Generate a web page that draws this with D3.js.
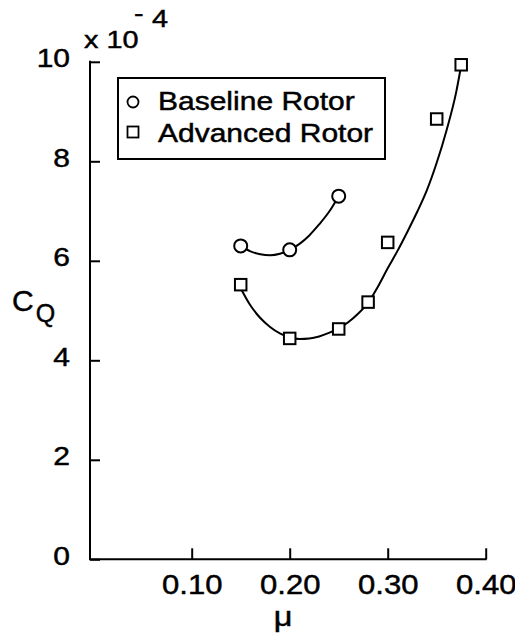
<!DOCTYPE html>
<html><head><meta charset="utf-8">
<script src="https://cdn.jsdelivr.net/npm/d3@7"></script>
<style>
html,body{margin:0;padding:0;background:#fff;}
svg{display:block;font-family:"Liberation Sans",Arial,Helvetica,sans-serif;}
svg text{stroke:#000;stroke-width:0.45px;}
</style></head>
<body>
<svg id="chart" width="515" height="634"></svg>
<script>
// ---- data ----
const xTicks = [0.10, 0.20, 0.30, 0.40];
const xTickLabels = ["0.10", "0.20", "0.30", "0.40"];
const yTicks = [0, 2, 4, 6, 8, 10];
const yTickLabels = ["0", "2", "4", "6", "8", "10"];

const baselineMu = [0.15, 0.20, 0.25];
const baselineCQ = [6.30, 6.22, 7.30];
const advancedMu = [0.15, 0.20, 0.25, 0.28, 0.30, 0.35, 0.375];
const advancedCQ = [5.52, 4.44, 4.63, 5.17, 6.37, 8.85, 9.94];

// fitted curves
const baselineFitMu = [0.15, 0.16, 0.17, 0.18, 0.19, 0.20, 0.21, 0.22, 0.23, 0.24, 0.25];
const baselineFitCQ = [6.30, 6.19, 6.13, 6.11, 6.14, 6.22, 6.34, 6.51, 6.73, 6.98, 7.30];
const advancedFitMu = [0.15, 0.16, 0.17, 0.18, 0.19, 0.20, 0.21, 0.22, 0.23, 0.24, 0.25, 0.26, 0.27, 0.28, 0.29, 0.30, 0.31, 0.32, 0.33, 0.34, 0.35, 0.36, 0.37, 0.375];
const advancedFitCQ = [5.45, 5.10, 4.85, 4.67, 4.54, 4.46, 4.43, 4.44, 4.48, 4.55, 4.64, 4.77, 4.94, 5.16, 5.48, 5.85, 6.20, 6.58, 6.98, 7.42, 7.97, 8.62, 9.40, 9.93];

const seriesNames = ["Baseline Rotor", "Advanced Rotor"];

// ---- layout ----
const svg = d3.select("#chart");
const ink = "#000";
const SX = 1.2; // glyphs in the reference are horizontally wide
const axisX0 = 90;
const x = d3.scaleLinear().domain([0.10, 0.40]).range([191.7, 485.7]);
const y = d3.scaleLinear().domain([0, 10]).range([559.3, 61.8]);

function label(px, py, txt, size, anchor) {
  return svg.append("text")
    .attr("transform", `translate(${px},${py}) scale(${SX},1)`)
    .attr("font-size", size).attr("fill", ink)
    .attr("text-anchor", anchor || "start").text(txt);
}

// axes lines
svg.append("line").attr("x1", axisX0 - 1).attr("x2", x(0.40) + 1).attr("y1", y(0)).attr("y2", y(0))
  .attr("stroke", ink).attr("stroke-width", 2);
svg.append("line").attr("x1", axisX0).attr("x2", axisX0).attr("y1", y(0)).attr("y2", y(10) - 1)
  .attr("stroke", ink).attr("stroke-width", 2);

// x axis
const xAxis = d3.axisBottom(x).tickValues(xTicks).tickFormat((d, i) => xTickLabels[i])
  .tickSizeInner(-11).tickSizeOuter(0).tickPadding(15.5);
const gx = svg.append("g").attr("transform", `translate(0,${y(0)})`).call(xAxis);
gx.select(".domain").remove();
gx.selectAll(".tick line").attr("stroke", ink).attr("stroke-width", 2);
gx.selectAll(".tick text").attr("font-size", 27).attr("fill", ink)
  .attr("font-family", "Liberation Sans, Arial, sans-serif")
  .attr("transform", `scale(${1.15},1)`);

// y axis
const yAxis = d3.axisLeft(y).tickValues(yTicks).tickFormat((d, i) => yTickLabels[i])
  .tickSizeInner(-10).tickSizeOuter(0).tickPadding(20);
const gy = svg.append("g").attr("transform", `translate(${axisX0},0)`).call(yAxis);
gy.select(".domain").remove();
gy.selectAll(".tick line").attr("stroke", ink).attr("stroke-width", 2);
gy.selectAll(".tick text").attr("font-size", 25).attr("fill", ink).attr("dy", "0.2em")
  .attr("font-family", "Liberation Sans, Arial, sans-serif")
  .attr("x", -20 / SX).attr("transform", `scale(${SX},1)`);

// exponent label
label(84, 48, "x 10", 24);
label(134, 21, "-", 24);
label(152, 27, "4", 24);

// axis titles
const yt = svg.append("text").attr("transform", "translate(12,311)")
  .attr("fill", ink).attr("font-size", 30);
yt.append("tspan").text("C");
yt.append("tspan").attr("font-size", 25).attr("dy", 11).attr("dx", 2).text("Q");
label(283, 626, "μ", 27, "middle");

// fitted curves
const line = d3.line().x(d => x(d[0])).y(d => y(d[1])).curve(d3.curveMonotoneX);
const bFit = baselineFitMu.map((m, i) => [m, baselineFitCQ[i]]);
const aFit = advancedFitMu.map((m, i) => [m, advancedFitCQ[i]]);
svg.append("path").attr("d", line(bFit)).attr("fill", "none").attr("stroke", ink).attr("stroke-width", 2);
svg.append("path").attr("d", line(aFit)).attr("fill", "none").attr("stroke", ink).attr("stroke-width", 2);

// markers
const bPts = baselineMu.map((m, i) => [m, baselineCQ[i]]);
const aPts = advancedMu.map((m, i) => [m, advancedCQ[i]]);
svg.append("g").selectAll("circle").data(bPts).join("circle")
  .attr("cx", d => x(d[0])).attr("cy", d => y(d[1])).attr("r", 6.5)
  .attr("fill", "#fff").attr("stroke", ink).attr("stroke-width", 2);
const sq = 11.5;
svg.append("g").selectAll("rect").data(aPts).join("rect")
  .attr("x", d => x(d[0]) - sq / 2).attr("y", d => y(d[1]) - sq / 2)
  .attr("width", sq).attr("height", sq)
  .attr("fill", "#fff").attr("stroke", ink).attr("stroke-width", 2);

// legend
const lg = svg.append("g");
lg.append("rect").attr("x", 118).attr("y", 78).attr("width", 267).attr("height", 81)
  .attr("fill", "#fff").attr("stroke", ink).attr("stroke-width", 2);
lg.append("circle").attr("cx", 133).attr("cy", 102).attr("r", 5.5)
  .attr("fill", "#fff").attr("stroke", ink).attr("stroke-width", 1.8);
lg.append("rect").attr("x", 127.5).attr("y", 126.5).attr("width", 11).attr("height", 11)
  .attr("fill", "#fff").attr("stroke", ink).attr("stroke-width", 1.8);
seriesNames.forEach((d, i) => label(158, 110 + i * 32, d, 25));
</script>
</body></html>
